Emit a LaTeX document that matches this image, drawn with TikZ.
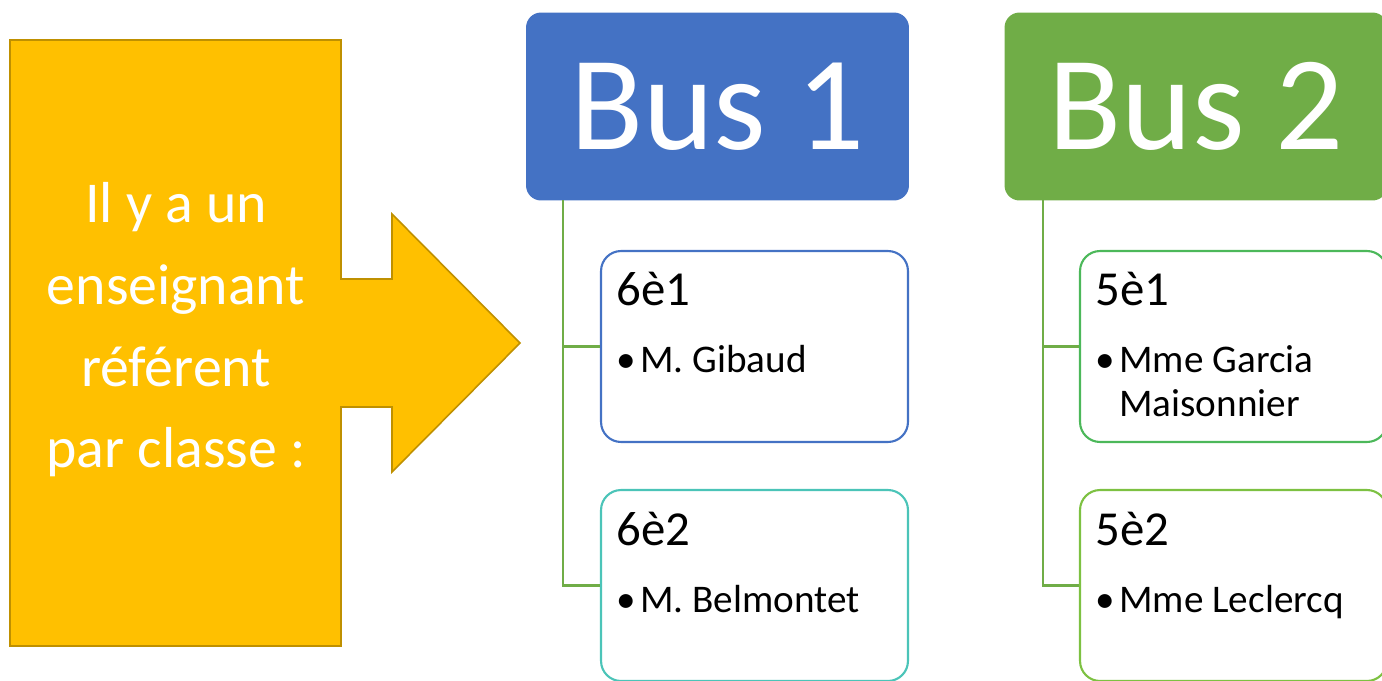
\documentclass[tikz,border=0pt]{standalone}
\usepackage{fontspec}
\setmainfont{Carlito}
\definecolor{busblue}{HTML}{4472C4}
\definecolor{busgreen}{HTML}{70AD47}
\definecolor{gold}{HTML}{FFC000}
\definecolor{golddark}{HTML}{BF9000}
\definecolor{teal6}{HTML}{4BC4B8}
\definecolor{green51}{HTML}{4CB85A}
\definecolor{green52}{HTML}{7DC142}

\begin{document}
\begin{tikzpicture}[x=0.02cm, y=-0.02cm, every node/.style={inner sep=0pt},
  bushead/.style={rounded corners=0.3cm, minimum width=7.66cm, minimum height=3.76cm, text=white, font=\fontsize{76.5}{80}\selectfont},
  classbox/.style={draw, line width=1.2pt, rounded corners=0.4cm, minimum width=6.14cm, minimum height=3.82cm, fill=white},
  classname/.style={anchor=base west, font=\fontsize{27.8}{32}\selectfont},
  teacher/.style={anchor=base west, align=left, font=\fontsize{22.3}{25}\selectfont},
  link/.style={draw=busgreen, line width=1.5pt}]
\useasboundingbox (0,0) rectangle (1382,680);
\clip (0,0) rectangle (1382,680);
% fleche
\draw[fill=gold, draw=golddark, line width=0.9pt] (10,40) -- (341,40) -- (341,279) -- (392,279) -- (392,214) -- (520,343) -- (392,472) -- (392,407) -- (341,407) -- (341,646) -- (10,646) -- cycle;
\node[text=white, align=center, font=\fontsize{32.9}{46.5}\selectfont] (intro) at (176,330) {Il y a un\\enseignant\\référent\\par classe :};
% bus 1
\node[bushead, fill=busblue] (B1) at (717.5,106.5) {Bus 1};
\coordinate (T1) at (563,200);
\node[classbox, draw=busblue] (C61) at (754.5,346.5) {};
\node[classbox, draw=teal6] (C62) at (754.5,585.5) {};
\draw[link] (T1) |- (C61.west);
\draw[link] (T1) |- (C62.west);
\node[classname] (N61) at (616,305) {6è1};
\node[teacher] (P61) at (616,372) {\makebox[0.48cm][l]{•}M. Gibaud};
\node[classname] (N62) at (616,545) {6è2};
\node[teacher] (P62) at (616,612) {\makebox[0.48cm][l]{•}M. Belmontet};
% bus 2
\node[bushead, fill=busgreen] (B2) at (1196,106.5) {Bus 2};
\coordinate (T2) at (1043,200);
\node[classbox, draw=green51] (C51) at (1233.5,346.5) {};
\node[classbox, draw=green52] (C52) at (1233.5,585.5) {};
\draw[link] (T2) |- (C51.west);
\draw[link] (T2) |- (C52.west);
\node[classname] (N51) at (1095,305) {5è1};
\node[teacher] (P51) at (1095,416) {\makebox[0.48cm][l]{•}Mme Garcia\\\hspace*{0.48cm}Maisonnier};
\node[classname] (N52) at (1095,545) {5è2};
\node[teacher] (P52) at (1095,612) {\makebox[0.48cm][l]{•}Mme Leclercq};
\end{tikzpicture}
\end{document}
